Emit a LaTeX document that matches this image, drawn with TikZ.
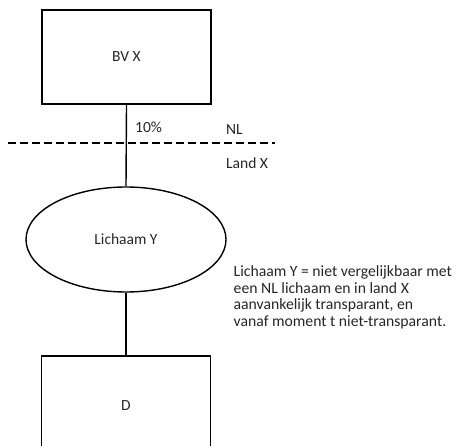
\documentclass[tikz,border=0pt]{standalone}
\usepackage{fontspec}
\setmainfont{Carlito}
\usetikzlibrary{shapes.geometric}
\begin{document}
\begin{tikzpicture}[x=1pt,y=-1pt,
  every node/.style={font=\fontsize{15.5}{16.5}\selectfont, text=black!85},
  boxnode/.style={draw, line width=1.4pt, minimum width=169pt, minimum height=94pt, inner sep=0pt},
  ovalnode/.style={draw, ellipse, line width=1.4pt, minimum width=200pt, minimum height=105pt, inner sep=0pt},
  conn/.style={line width=1.4pt},
  lbl/.style={anchor=base west, inner sep=0pt}]
\useasboundingbox (0,0) rectangle (465,446);
\clip (0,0) rectangle (465,446);
\node[boxnode] (bv) at (126.5,57) {BV X};
\node[ovalnode] (y) at (126,239.5) {Lichaam Y};
\node[boxnode, minimum height=100pt] (d) at (126,406) {D};
\draw[conn] (bv.south) -- (y.north);
\draw[conn] (y.south) -- (d.north);
\coordinate (dl) at (8,143);
\coordinate (dr) at (275,143);
\draw[line width=1.4pt, dash pattern=on 8pt off 4pt] (dl) -- (dr);
\node[lbl] (pct) at (135,133) {10\%};
\node[lbl] (nl) at (226,135) {NL};
\node[lbl] (lx) at (226,169) {Land X};
\node[lbl, anchor=north west, align=left, font=\fontsize{15.7}{16.5}\selectfont] (note) at (233.5,265.5) {Lichaam Y = niet vergelijkbaar met\\een NL lichaam en in land X\\aanvankelijk transparant, en\\vanaf moment t niet-transparant.};
\end{tikzpicture}
\end{document}
